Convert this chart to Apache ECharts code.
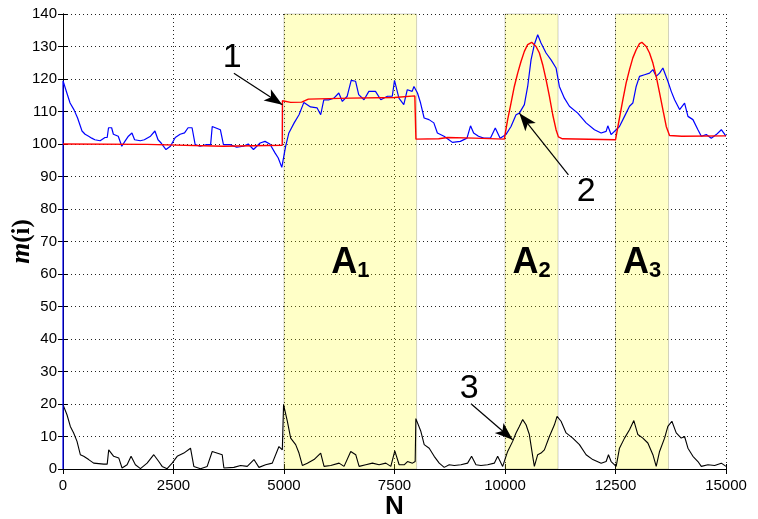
<!DOCTYPE html>
<html>
<head>
<meta charset="utf-8">
<script src="https://cdn.jsdelivr.net/npm/echarts@6/dist/echarts.min.js"></script>
<style>
  html, body { margin: 0; padding: 0; background: #fff; }
  #chart { width: 758px; height: 519px; }
</style>
</head>
<body>
<div id="chart"></div>
<script>
// x ticks / y ticks
const xTicks = [0, 2500, 5000, 7500, 10000, 12500, 15000]
const yTicks = [0, 10, 20, 30, 40, 50, 60, 70, 80, 90, 100, 110, 120, 130, 140]

// blue curve (measured m(i))
const blueN = [0, 0, 80, 160, 250, 330, 430, 500, 580, 650, 720, 840, 950, 1000, 1030, 1100, 1140, 1250, 1330, 1400, 1480, 1560, 1620, 1750, 1840, 1980, 2080, 2150, 2220, 2330, 2430, 2540, 2650, 2750, 2830, 2920, 2990, 3100, 3250, 3340, 3376, 3560, 3600, 3630, 3780, 3930, 4080, 4190, 4310, 4460, 4570, 4680, 4800, 4870, 4950, 5037, 5110, 5230, 5340, 5450, 5600, 5750, 5830, 5900, 6020, 6130, 6240, 6320, 6430, 6520, 6620, 6690, 6810, 6920, 7070, 7190, 7340, 7450, 7500, 7600, 7710, 7790, 7900, 7940, 8020, 8090, 8170, 8280, 8390, 8470, 8620, 8730, 8810, 8990, 9140, 9220, 9290, 9400, 9520, 9670, 9780, 9890, 9960, 10020, 10136, 10250, 10325, 10438, 10513, 10589, 10664, 10740, 10815, 10929, 11042, 11155, 11230, 11344, 11457, 11646, 11835, 12024, 12175, 12288, 12326, 12400, 12515, 12590, 12704, 12817, 12892, 12968, 13043, 13157, 13270, 13346, 13421, 13497, 13572, 13685, 13761, 13837, 13950, 14063, 14139, 14252, 14365, 14441, 14554, 14667, 14780, 14894, 15000]
const blueM = [0, 119.5, 116, 112.6, 110.5, 108, 104, 103, 102.4, 101.8, 101.3, 101, 102, 102, 105, 105, 103, 102.4, 99.3, 100.8, 102.4, 103.4, 101.3, 101, 101.3, 102.4, 104, 101.3, 100.3, 98.3, 99.3, 102, 103, 103.4, 105, 105, 99.8, 99.3, 99.8, 99.8, 105.4, 104.4, 104.4, 99.8, 99.8, 99, 99.3, 100, 98.3, 100.3, 100.8, 100, 97.2, 95.7, 92.8, 99.3, 103.4, 106.5, 109, 112.8, 111.4, 111.1, 109, 113.6, 113.6, 114.1, 115.7, 113.1, 114.7, 119.6, 119.3, 115.2, 113.6, 116.2, 116.2, 113.6, 114.7, 114.7, 119.6, 114.1, 112.1, 116.7, 116.2, 117.7, 115.7, 112.6, 108, 107.5, 106.5, 103.4, 102.4, 101.3, 100.5, 100.8, 101.8, 105.6, 103.4, 102.4, 101.8, 101.8, 104.9, 101.8, 102.4, 102.9, 105.4, 109, 109.5, 112.1, 117.7, 125.9, 130.6, 133.6, 131.1, 128, 125.9, 123.4, 117.7, 114.1, 111.6, 109.5, 106.5, 104.4, 103.4, 103.9, 105.6, 102.9, 104.4, 105.4, 108.5, 111.6, 112.6, 117.7, 120.8, 121.3, 121.8, 122.9, 120.8, 121.8, 123.4, 119.3, 116.2, 113.6, 110.6, 112.6, 108.5, 107.5, 104.4, 102.4, 102.9, 101.8, 102.9, 104.4, 102.4]

// red curve (model)
const redN = [0, 1900, 1920, 3620, 3640, 4960, 4965, 5150, 5400, 5550, 6500, 7500, 7960, 7985, 8500, 8700, 9300, 9984, 10060, 10136, 10211, 10287, 10362, 10438, 10513, 10604, 10702, 10778, 10853, 10929, 11004, 11080, 11155, 11208, 11300, 12500, 12590, 12666, 12741, 12817, 12892, 12968, 13043, 13096, 13195, 13270, 13346, 13421, 13497, 13572, 13648, 13723, 14000, 15000]
const redM = [100, 99.9, 99.3, 99.3, 99.8, 99.6, 113.3, 112.8, 112.9, 113.8, 114.1, 114.3, 114.8, 101.5, 101.6, 102, 101.8, 101.5, 107.5, 112.6, 117.7, 121.8, 125.4, 128.5, 130.6, 131.3, 130, 128, 124.4, 119.8, 114.7, 109, 104.4, 102.2, 101.6, 101.3, 108, 113.6, 118.8, 122.9, 126.5, 129, 130.9, 131.3, 130, 128, 124.9, 120.8, 115.7, 110.6, 105.4, 102.6, 102.4, 102.5]

// black curve (difference)
const diffN = [0, 90, 166, 241, 317, 392, 468, 581, 694, 921, 1000, 1034, 1147, 1261, 1336, 1450, 1540, 1638, 1752, 1903, 2054, 2167, 2243, 2356, 2469, 2583, 2734, 2885, 2960, 3111, 3262, 3376, 3602, 3640, 3866, 4018, 4168, 4320, 4433, 4584, 4735, 4886, 4962, 4990, 5075, 5151, 5264, 5339, 5415, 5528, 5679, 5830, 5906, 6057, 6246, 6359, 6510, 6623, 6699, 6850, 7001, 7152, 7303, 7417, 7507, 7605, 7719, 7794, 7907, 7968, 7983, 8096, 8172, 8285, 8398, 8512, 8625, 8738, 8852, 9003, 9154, 9244, 9343, 9456, 9607, 9758, 9834, 9947, 10060, 10173, 10249, 10324, 10400, 10476, 10551, 10627, 10664, 10740, 10815, 10891, 11004, 11118, 11178, 11268, 11382, 11533, 11684, 11835, 11986, 12175, 12288, 12341, 12401, 12515, 12590, 12704, 12817, 12915, 13006, 13119, 13232, 13346, 13421, 13497, 13610, 13685, 13776, 13874, 13987, 14063, 14139, 14252, 14365, 14441, 14592, 14743, 14894, 15000]
const diffM = [19.8, 16.7, 13.1, 11.1, 8.5, 4.4, 3.9, 2.9, 1.8, 1.5, 1.5, 5.9, 3.9, 3.4, 0.3, 1.3, 3.9, 1.3, 0.1, 1.8, 4.4, 2.3, 0.8, 0.1, 1.8, 3.9, 4.9, 6.4, 0.8, 0.1, 0.8, 5.4, 4.4, 0.3, 0.5, 1.1, 0.8, 2.9, 0.5, 1.3, 1.8, 6.9, 5.9, 19.8, 14.7, 9.5, 7.5, 4.9, 1.1, 1.8, 2.9, 4.9, 0.8, 1.1, 1.8, 0.8, 5.4, 4.4, 0.8, 1.3, 1.8, 1.3, 1.8, 0.8, 5.6, 1.3, 1.3, 2.3, 1.8, 2.3, 15.5, 11.6, 7.5, 6.4, 3.9, 1.8, 0.5, 1.3, 1.1, 1.3, 1.8, 3.9, 1.3, 1.1, 1.3, 1.8, 3.9, 0.8, 5.4, 8.5, 11.1, 13.1, 15.2, 13.6, 10.6, 3.9, 0.8, 4.4, 4.9, 5.9, 10, 13.6, 16.2, 14.7, 11.1, 9.5, 7.5, 4.4, 2.9, 1.8, 2.3, 4.4, 2.3, 0.8, 6.4, 9.5, 12.1, 14.9, 10.6, 9.5, 8, 4.4, 0.8, 5.4, 9.5, 13.1, 14.7, 11.1, 9.5, 10, 6.4, 3.9, 2.3, 0.8, 1.3, 1.1, 1.8, 0.8]

// shaded zones A1..A3
const zoneStart = [5000, 10000, 12500]
const zoneEnd = [8000, 11200, 13700]
const zoneSub = ['1', '2', '3']

// annotation arrows: tail -> head, label position
const arrowTail = [[3866, 121.8], [11435, 90.5], [9230, 20.1]]
const arrowHead = [[4962, 112.1], [10325, 109.5], [10174, 9]]
const arrowText = ['1', '2', '3']
const arrowTextPos = [[3830, 126.5], [11835, 85.3], [9191, 24.8]]

const zip = (a, b) => a.map((v, i) => [v, b[i]])

const chart = echarts.init(document.getElementById('chart'))
const font = '"Liberation Sans", Arial, sans-serif'

const tickAxis = {
  type: 'value',
  min: xTicks[0],
  max: xTicks[xTicks.length - 1],
  interval: xTicks[1] - xTicks[0]
}

const option = {
  animation: false,
  textStyle: { fontFamily: font },
  grid: { left: 63, right: 32, top: 14, bottom: 50, show: false, containLabel: false, outerBoundsMode: 'none' },
  xAxis: [
    {
      ...tickAxis,
      position: 'bottom',
      name: 'N',
      nameLocation: 'middle',
      nameGap: 25,
      nameMoveOverlap: false,
      nameTextStyle: { fontSize: 26, fontWeight: 'bold', color: '#000', fontFamily: font },
      axisLine: { show: true, lineStyle: { color: '#000', width: 1 } },
      axisTick: { inside: true, length: 5, lineStyle: { color: '#000' } },
      axisLabel: { color: '#000', fontSize: 15, margin: 9, fontFamily: font, formatter: (v) => String(v) },
      splitLine: { show: true, lineStyle: { color: '#222', type: [1, 3], width: 1 } }
    },
    {
      ...tickAxis,
      position: 'top',
      axisLine: { show: true, lineStyle: { color: '#000', width: 1 } },
      axisTick: { inside: true, length: 5, lineStyle: { color: '#000' } },
      axisLabel: { show: false },
      splitLine: { show: false }
    }
  ],
  yAxis: [
    {
      type: 'value',
      min: yTicks[0],
      max: yTicks[yTicks.length - 1],
      interval: yTicks[1] - yTicks[0],
      name: '{m|m}{p|(i)}',
      nameLocation: 'middle',
      nameGap: 27,
      nameMoveOverlap: false,
      nameRotate: 90,
      nameTextStyle: {
        rich: {
          m: { fontSize: 27, fontWeight: 'bold', fontStyle: 'italic', fontFamily: '"Liberation Serif", serif', color: '#000' },
          p: { fontSize: 25, fontWeight: 'bold', fontFamily: '"Liberation Serif", serif', color: '#000' }
        }
      },
      axisLine: { show: true, lineStyle: { color: '#000', width: 1 } },
      axisTick: { inside: true, length: 5, lineStyle: { color: '#000' } },
      axisLabel: { color: '#000', fontSize: 15, margin: 6, fontFamily: font },
      splitLine: { show: true, lineStyle: { color: '#222', type: [1, 3], width: 1 } }
    },
    {
      type: 'value',
      min: yTicks[0],
      max: yTicks[yTicks.length - 1],
      interval: yTicks[1] - yTicks[0],
      position: 'right',
      axisLine: { show: true, lineStyle: { color: '#000', width: 1 } },
      axisTick: { inside: true, length: 5, lineStyle: { color: '#000' } },
      axisLabel: { show: false },
      splitLine: { show: false }
    }
  ],
  series: [
    {
      name: 'diff',
      type: 'line',
      data: zip(diffN, diffM),
      showSymbol: false,
      lineStyle: { color: '#000', width: 1.1 },
      z: 2,
      markLine: {
        silent: true,
        symbol: ['none', 'arrow'],
        symbolSize: [10, 18],
        label: { show: false },
        lineStyle: { color: '#000', width: 1.2, type: 'solid' },
        data: arrowTail.map((t, i) => [{ coord: t }, { coord: arrowHead[i] }])
      }
    },
    {
      name: 'blue',
      type: 'line',
      data: zip(blueN, blueM),
      showSymbol: false,
      lineStyle: { color: '#0000ff', width: 1.2 },
      z: 2
    },
    {
      name: 'red',
      type: 'line',
      data: zip(redN, redM),
      showSymbol: false,
      lineStyle: { color: '#ff0000', width: 1.4 },
      z: 2
    },
    {
      name: 'zones',
      type: 'line',
      data: [],
      z: 5,
      markArea: {
        silent: true,
        itemStyle: { color: 'rgba(255,255,0,0.22)', borderColor: 'rgba(0,0,0,0.18)', borderWidth: 1 },
        label: {
          show: true,
          position: 'inside',
          offset: [0, 22],
          rich: {
            a: { fontSize: 36, fontWeight: 'bold', color: '#000', fontFamily: font },
            s: { fontSize: 22, fontWeight: 'bold', color: '#000', fontFamily: font, padding: [14, 0, 0, 0] }
          }
        },
        data: zoneStart.map((s, i) => [
          { xAxis: s, yAxis: 0, label: { formatter: '{a|A}{s|' + zoneSub[i] + '}' } },
          { xAxis: zoneEnd[i], yAxis: 140 }
        ])
      },
      markPoint: {
        silent: true,
        symbol: 'circle',
        symbolSize: 0,
        label: { show: true, position: 'inside', fontSize: 34, color: '#000', fontFamily: font },
        data: arrowTextPos.map((p, i) => ({ coord: p, value: arrowText[i], label: { formatter: arrowText[i] } }))
      }
    }
  ]
}

chart.setOption(option)
</script>
</body>
</html>
